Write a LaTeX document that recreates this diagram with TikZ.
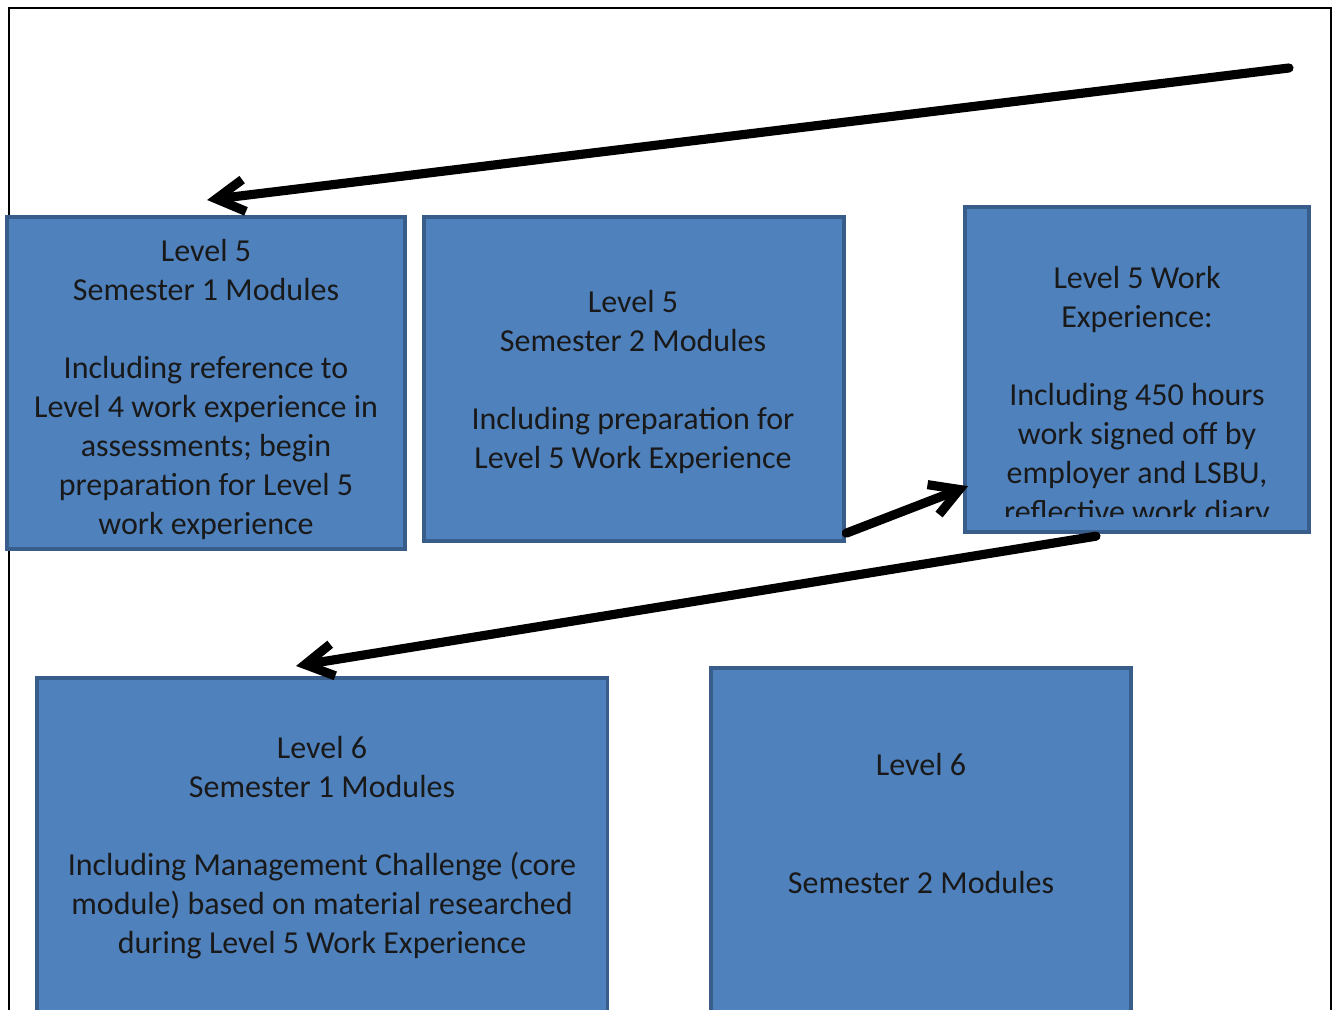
\documentclass[tikz,border=0pt]{standalone}
\usepackage{fontspec}
\setmainfont{Carlito}
\usetikzlibrary{arrows.meta,calc}
\definecolor{boxfill}{HTML}{4F81BD}
\definecolor{boxline}{HTML}{385D8A}
\begin{document}
\begin{tikzpicture}[x=0.01cm,y=-0.01cm]
\tikzset{module/.style = {shape=rectangle,draw=boxline,fill=boxfill,line width=1pt,inner sep=0pt,outer sep=0pt,anchor=north west}}
\tikzset{modtext/.style = {align=center,font=\fontsize{9.1}{11.1}\selectfont,text=black!90}}
\tikzset{edge/.style = {line width=2.6pt,line cap=round,line join=round,-{Straight Barb[length=0.28cm,width=0.32cm]}}}

\useasboundingbox (0,0) rectangle (1339,1010);
\clip (0,0) rectangle (1339,1010);
\fill[white] (0,0) rectangle (1339,1010);
\draw[line width=0.6pt] (9,1020) -- (9,8) -- (1331,8) -- (1331,1020);

\node[module,minimum width=3.98cm,minimum height=3.32cm] (a) at (7,217) {};
\node[module,minimum width=4.20cm,minimum height=3.24cm] (b) at (424,217) {};
\node[module,minimum width=3.44cm,minimum height=3.25cm] (c) at (965,207) {};
\node[module,minimum width=5.70cm,minimum height=4.00cm] (d) at (37,678) {};
\node[module,minimum width=4.20cm,minimum height=4.00cm] (e) at (711,668) {};

\node[modtext] (ta) at (206,389.5) {Level 5\\Semester 1 Modules\\~\\Including reference to\\Level 4 work experience in\\assessments; begin\\preparation for Level 5\\work experience};
\node[modtext] (tb) at (633,382) {Level 5\\Semester 2 Modules\\~\\Including preparation for\\Level 5 Work Experience};
\begin{scope}
\clip (967,209) rectangle (1307,517);
\node[modtext] (tc) at (1137,397) {Level 5 Work\\Experience:\\~\\Including 450 hours\\work signed off by\\employer and LSBU,\\reflective work diary};
\end{scope}
\node[modtext] (td) at (322,847.5) {Level 6\\Semester 1 Modules\\~\\Including Management Challenge (core\\module) based on material researched\\during Level 5 Work Experience};
\node[modtext] (te) at (921,823.5) {Level 6\\~\\~\\Semester 2 Modules};

\coordinate (start) at (1289,68);
\draw[edge] (start) to ($(a.north)+(1,-17)$);
\draw[edge] ($(b.south east)+(2,-8)$) to ($(c.south west)+(3,-46)$);
\draw[edge] ($(c.south west)+(131,4)$) to ($(d.north west)+(259,-12)$);
\end{tikzpicture}
\end{document}
